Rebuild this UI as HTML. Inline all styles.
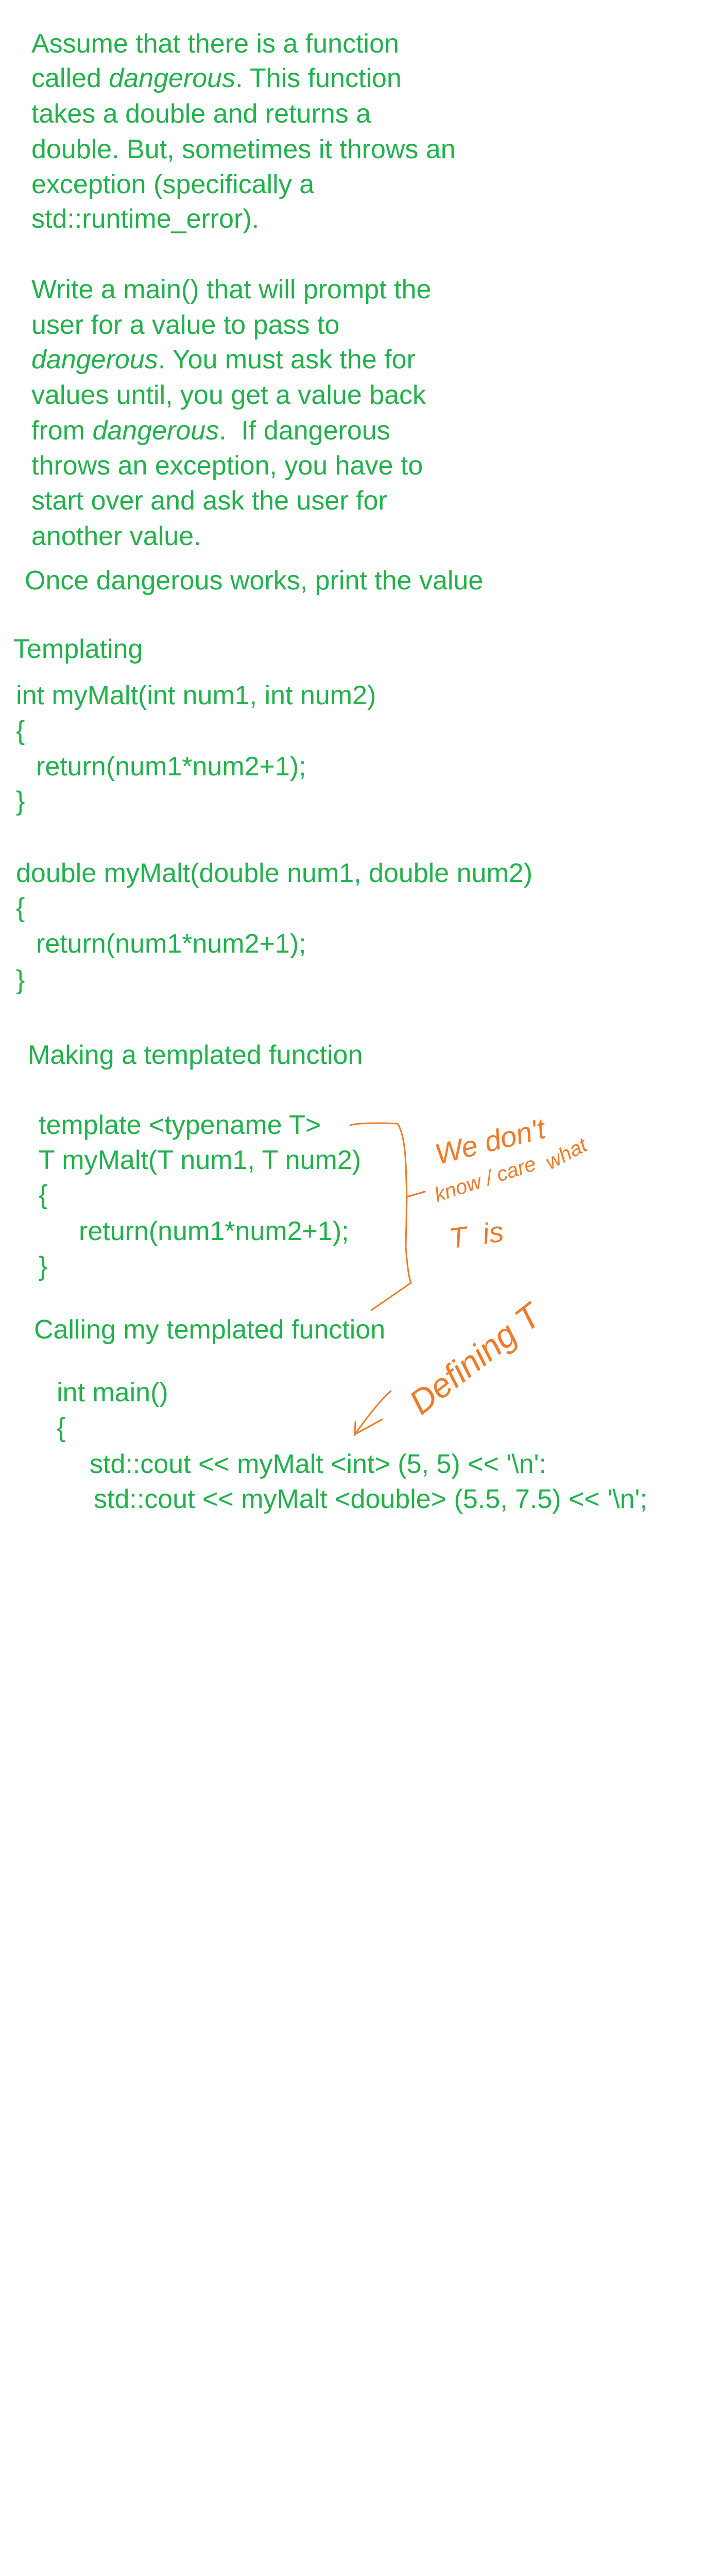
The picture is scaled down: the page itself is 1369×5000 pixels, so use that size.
<!DOCTYPE html>
<html><head><meta charset="utf-8"><style>
html,body{margin:0;padding:0;background:#fff;}
body{width:1369px;height:5000px;position:relative;overflow:hidden;font-family:"Liberation Sans",sans-serif;color:#22b14c;}
.t{position:absolute;white-space:pre;font-size:52px;line-height:52px;}
.h{position:absolute;font-family:"Liberation Sans",sans-serif;color:#f07a28;white-space:pre;font-style:italic;}
</style></head><body>
<div class="t" style="left:61px;top:59px">Assume that there is a function</div>
<div class="t" style="left:61px;top:126px">called <i>dangerous</i>. This function</div>
<div class="t" style="left:61px;top:195px">takes a double and returns a</div>
<div class="t" style="left:61px;top:264px">double. But, sometimes it throws an</div>
<div class="t" style="left:61px;top:332px">exception (specifically a</div>
<div class="t" style="left:61px;top:399px">std::runtime_error).</div>
<div class="t" style="left:61px;top:536px">Write a main() that will prompt the</div>
<div class="t" style="left:61px;top:605px">user for a value to pass to</div>
<div class="t" style="left:61px;top:672px"><i>dangerous</i>. You must ask the for</div>
<div class="t" style="left:61px;top:741px">values until, you get a value back</div>
<div class="t" style="left:61px;top:810px">from <i>dangerous</i>.  If dangerous</div>
<div class="t" style="left:61px;top:878px">throws an exception, you have to</div>
<div class="t" style="left:61px;top:946px">start over and ask the user for</div>
<div class="t" style="left:61px;top:1015px">another value.</div>
<div class="t" style="left:48px;top:1101px">Once dangerous works, print the value</div>

<div class="t" style="left:26px;top:1234px">Templating</div>
<div class="t" style="left:31px;top:1324px">int myMalt(int num1, int num2)</div>
<div class="t" style="left:31px;top:1392px">{</div>
<div class="t" style="left:70px;top:1462px">return(num1*num2+1);</div>
<div class="t" style="left:31px;top:1529px">}</div>
<div class="t" style="left:31px;top:1669px">double myMalt(double num1, double num2)</div>
<div class="t" style="left:31px;top:1736px">{</div>
<div class="t" style="left:70px;top:1806px">return(num1*num2+1);</div>
<div class="t" style="left:31px;top:1876px">}</div>

<div class="t" style="left:54px;top:2022px">Making a templated function</div>
<div class="t" style="left:75px;top:2158px">template &lt;typename T&gt;</div>
<div class="t" style="left:75px;top:2226px">T myMalt(T num1, T num2)</div>
<div class="t" style="left:75px;top:2293px">{</div>
<div class="t" style="left:153px;top:2364px">return(num1*num2+1);</div>
<div class="t" style="left:75px;top:2432px">}</div>
<div class="t" style="left:66px;top:2555px">Calling my templated function</div>
<div class="t" style="left:110px;top:2677px">int main()</div>
<div class="t" style="left:110px;top:2745px">{</div>
<div class="t" style="left:174px;top:2816px">std::cout &lt;&lt; myMalt &lt;int&gt; (5, 5) &lt;&lt; '\n':</div>
<div class="t" style="left:182px;top:2884px">std::cout &lt;&lt; myMalt &lt;double&gt; (5.5, 7.5) &lt;&lt; '\n';</div>

<svg style="position:absolute;left:0;top:0" width="1369" height="5000">
<g fill="none" stroke="#f07a28" stroke-width="3" stroke-linecap="round">
<path d="M680 2184 Q700 2178 772 2181 Q785 2200 788 2260 L790 2323 L825 2313 M790 2323 L788 2420 Q792 2475 798 2490 L721 2543"/>
<path d="M759 2700 Q735 2720 689 2784 L690 2760 M689 2784 L742 2755"/>
</g>
</svg>
<div class="h" style="left:838px;top:2210px;font-size:56px;transform:rotate(-14deg);transform-origin:left top">We don't</div>
<div class="h" style="left:1052px;top:2240px;font-size:40px;transform:rotate(-28deg);transform-origin:left top">what</div>
<div class="h" style="left:838px;top:2300px;font-size:40px;transform:rotate(-18deg);transform-origin:left top">know / care</div>
<div class="h" style="left:868px;top:2372px;font-size:56px;transform:rotate(-8deg);transform-origin:left top">T  is</div>
<div class="h" style="left:780px;top:2700px;font-size:66px;transform:rotate(-38deg);transform-origin:left top">Defining T</div>
</body></html>
